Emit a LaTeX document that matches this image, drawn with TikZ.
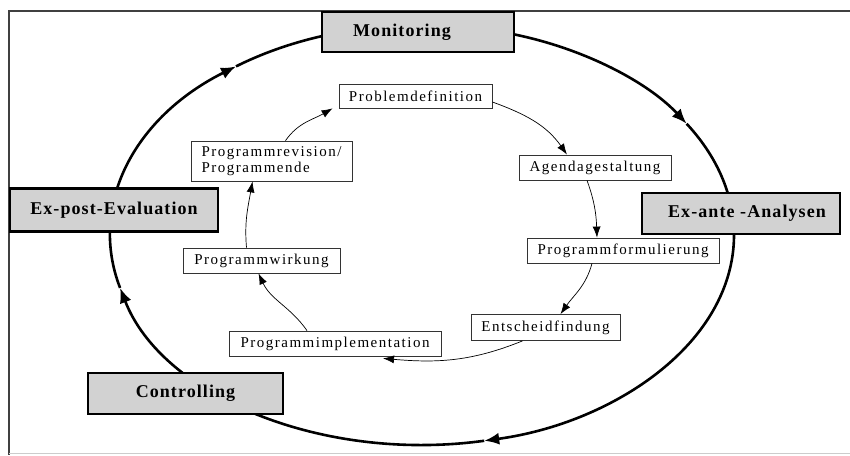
\documentclass[tikz,border=0pt]{standalone}
\usepackage{fontspec}
\setmainfont{Liberation Serif}
\newfontfamily\innerfont{Liberation Serif}[LetterSpace=10]
\newfontfamily\outerfont{Liberation Serif}[LetterSpace=6]
\usetikzlibrary{arrows.meta}
\begin{document}
\begin{tikzpicture}[x=1pt,y=1pt,
  outerbox/.style={draw=black, line width=2.5pt, fill=gray!35, inner sep=0pt,
    font=\outerfont\bfseries\fontsize{18}{20}\selectfont},
  innerbox/.style={draw=black!80, line width=0.8pt, fill=white, inner sep=0pt,
    align=left, font=\innerfont\fontsize{15}{16}\selectfont},
  cyc/.style={line width=2.6pt, -{Latex[length=15pt,width=12pt]}},
  flow/.style={line width=0.7pt, -{Latex[length=11pt,width=8pt]}}]
\useasboundingbox (0,0) rectangle (850,455);
% frame
\draw[line width=1.3pt, black!75] (850,444) -- (9,444) -- (9,0);
\draw[line width=1pt, black!20] (9,2) -- (850,2);
% outer cycle (ellipse)
\coordinate (c) at (422,220);
\draw[cyc] (c) ++(126.6:312 and 210) arc[start angle=126.6, end angle=32, x radius=312, y radius=210];
\draw[cyc] (c) ++(32:312 and 210) arc[start angle=32, end angle=-78.5, x radius=312, y radius=210];
\draw[cyc] (c) ++(-78.5:312 and 210) arc[start angle=-78.5, end angle=-165.4, x radius=312, y radius=210];
\draw[cyc] (c) ++(-165.4:312 and 210) arc[start angle=-165.4, end angle=-233.4, x radius=312, y radius=210];
% outer boxes
\node[outerbox, minimum width=192, minimum height=40] (mon) at (418,423) {Monitoring\hspace*{32pt}};
\node[outerbox, minimum width=208, minimum height=43] (post) at (114,245) {Ex-post-Evaluation};
\node[outerbox, minimum width=198, minimum height=41] (ante) at (741,241.5) {\hspace*{12pt}Ex-ante -Analysen};
\node[outerbox, minimum width=195, minimum height=41] (ctrl) at (185.5,61.5) {Controlling};
% inner boxes
\node[innerbox, minimum width=153, minimum height=24] (pd) at (415.5,359) {Problemdefinition};
\node[innerbox, minimum width=152, minimum height=25] (ag) at (595,287.5) {Agendagestaltung};
\node[innerbox, minimum width=192, minimum height=25] (pf) at (623,204.5) {Programmformulierung};
\node[innerbox, minimum width=149, minimum height=26] (ef) at (545.5,127.5) {Entscheidfindung};
\node[innerbox, minimum width=212, minimum height=25] (im) at (335,111.5) {Programmimplementation};
\node[innerbox, minimum width=157, minimum height=25] (wk) at (261.5,194.5) {Programmwirkung};
\node[innerbox, minimum width=161, minimum height=40] (rv) at (271.5,294) {Programmrevision/\\Programmende};
% inner cycle
\draw[flow] ([yshift=-6pt]pd.east) to[out=-20, in=125] ([xshift=-28pt]ag.north);
\draw[flow] ([xshift=-8pt]ag.south) to[out=-70, in=92] ([xshift=-26pt]pf.north);
\draw[flow] ([xshift=-31pt]pf.south) to[out=-105, in=55] ([xshift=15pt]ef.north);
\draw[flow] ([xshift=-23pt]ef.south) to[out=-158, in=-5] ([xshift=48pt,yshift=-2pt]im.south);
\draw[flow] ([xshift=-28pt]im.north) to[out=125, in=-65] ([xshift=-3pt]wk.south);
\draw[flow] ([xshift=-15pt]wk.north) to[out=95, in=-100] ([xshift=-19pt]rv.south);
\draw[flow] ([xshift=14pt]rv.north) to[out=55, in=-150] ([xshift=-6pt]pd.south west);
\end{tikzpicture}
\end{document}
